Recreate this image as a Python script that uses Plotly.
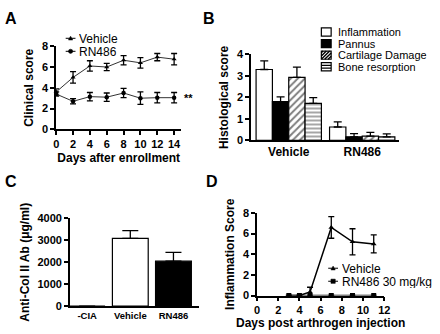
import plotly.graph_objects as go

W, H = 440, 334
FONT = "Liberation Sans"

# ---- A: clinical score after enrollment ----
days_a = [0, 2, 4, 6, 8, 10, 12, 14]
vehicle_a = [3.6, 5.0, 6.1, 6.0, 6.65, 6.4, 6.95, 6.75]
vehicle_a_sem = [0.3, 0.55, 0.5, 0.35, 0.45, 0.5, 0.35, 0.55]
rn486_a = [3.4, 2.7, 3.15, 3.1, 3.5, 3.0, 3.05, 3.05]
rn486_a_sem = [0.2, 0.25, 0.4, 0.4, 0.45, 0.6, 0.5, 0.5]
series_a = ["Vehicle", "RN486"]
signif_a = "**"

# ---- B: histological scores ----
groups_b = ["Vehicle", "RN486"]
scores_b = ["Inflammation", "Pannus", "Cartilage Damage", "Bone resorption"]
inflammation_b = [3.3, 0.62]
inflammation_b_sem = [0.4, 0.24]
pannus_b = [1.8, 0.16]
pannus_b_sem = [0.22, 0.15]
cartilage_b = [2.93, 0.19]
cartilage_b_sem = [0.48, 0.18]
bone_b = [1.72, 0.16]
bone_b_sem = [0.27, 0.14]

# ---- C: anti-collagen II antibody ----
groups_c = ["-CIA", "Vehicle", "RN486"]
antibody_c = [0, 3090, 2050]
antibody_c_sem = [0, 350, 400]

# ---- D: inflammation after arthrogen injection ----
days_d = [3, 4, 5, 7, 9, 11]
vehicle_d = [0, 0, 0.35, 6.6, 5.2, 5.0]
vehicle_d_sem = [0, 0, 0.45, 1.05, 1.27, 0.87]
rn486_d = [0, 0, 0, 0, 0, 0]
rn486_d_sem = [0, 0, 0, 0, 0, 0]
series_d = ["Vehicle", "RN486 30 mg/kg"]


def fx(px):
    return px / W


def fy(py):
    return 1 - py / H


def err(arr, up_only=False, width=3):
    e = dict(type="data", array=arr, color="black", thickness=1.3, width=width, visible=True)
    if up_only:
        e.update(symmetric=False, arrayminus=[0] * len(arr))
    return e


fig = go.Figure()

# Panel A lines
for name, ys, es, sym in [(series_a[0], vehicle_a, vehicle_a_sem, "triangle-up"),
                          (series_a[1], rn486_a, rn486_a_sem, "circle")]:
    fig.add_trace(go.Scatter(
        x=days_a, y=ys, name=name, mode="lines+markers",
        line=dict(color="#333333", width=1),
        marker=dict(symbol=sym, size=4.5, color="black"),
        error_y=err(es), xaxis="x", yaxis="y", showlegend=False, cliponaxis=False))

# Panel B grouped bars
bar_line = dict(color="black", width=1.2)
b_styles = [
    dict(color="white", line=bar_line),
    dict(color="black", line=bar_line),
    dict(color="white", line=bar_line,
         pattern=dict(shape="/", fgcolor="black", bgcolor="white", size=5, solidity=0.4)),
    dict(color="white", line=bar_line,
         pattern=dict(shape="-", fgcolor="black", bgcolor="white", size=4, solidity=0.35)),
]
for name, vals, sems, mk in zip(scores_b,
                                [inflammation_b, pannus_b, cartilage_b, bone_b],
                                [inflammation_b_sem, pannus_b_sem, cartilage_b_sem, bone_b_sem],
                                b_styles):
    fig.add_trace(go.Bar(x=groups_b, y=vals, name=name, marker=mk,
                         error_y=err(sems, up_only=True, width=4),
                         xaxis="x2", yaxis="y2", showlegend=False))

# Panel C bars
fig.add_trace(go.Bar(x=groups_c, y=antibody_c, width=0.83,
                     marker=dict(color=["white", "white", "black"], line=bar_line),
                     error_y=err(antibody_c_sem, up_only=True, width=8),
                     xaxis="x3", yaxis="y3", showlegend=False))

# Panel D lines
for name, ys, es, sym, sz in [(series_d[0], vehicle_d, vehicle_d_sem, "triangle-up", 5),
                              (series_d[1], rn486_d, rn486_d_sem, "square", 5)]:
    fig.add_trace(go.Scatter(
        x=days_d, y=ys, name=name, mode="lines+markers",
        line=dict(color="black", width=1.5),
        marker=dict(symbol=sym, size=sz, color="black"),
        error_y=err(es), xaxis="x4", yaxis="y4", showlegend=False, cliponaxis=False))


def axis(**kw):
    base = dict(showline=True, linecolor="black", linewidth=1.5, ticks="outside",
                ticklen=4, tickwidth=1.5, tickcolor="black", showgrid=False,
                zeroline=False, fixedrange=True,
                tickfont=dict(family=FONT, size=11, color="black", weight="bold"),
                title_font=dict(family=FONT, size=12, color="black", weight="bold"))
    base.update(kw)
    return base


layout = dict(
    width=W, height=H, margin=dict(l=0, r=0, t=0, b=0),
    paper_bgcolor="white", plot_bgcolor="white",
    barmode="group", bargap=0.111, bargroupgap=0,
    font=dict(family=FONT, color="black"),
    xaxis=axis(domain=[fx(54.3), fx(182)], range=[0, 14.85], tickvals=days_a,
               title=dict(text="Days after enrollment", standoff=4), anchor="y"),
    yaxis=axis(domain=[fy(128), fy(41.7)], range=[0, 8], dtick=2,
               title=dict(text="Clinical score", standoff=6), anchor="x"),
    xaxis2=axis(domain=[fx(253.3), fx(404)], range=[-0.512, 1.497], ticks="",
                tickfont=dict(family=FONT, size=12, color="black", weight="bold"),
                anchor="y2"),
    yaxis2=axis(domain=[fy(139.3), fy(50.3)], range=[0, 4], dtick=1,
                title=dict(text="Histological score", standoff=6), anchor="x2"),
    xaxis3=axis(domain=[fx(68.3), fx(200)], range=[-0.40, 2.59], ticks="",
                tickfont=dict(family=FONT, size=9.5, color="black", weight="bold"),
                anchor="y3"),
    yaxis3=axis(domain=[fy(311.3), fy(220.3)], range=[0, 4000], dtick=1000,
                title=dict(text="Anti-Col II Ab (μg/ml)", standoff=5), anchor="x3"),
    xaxis4=axis(domain=[fx(259.3), fx(389.3)], range=[0, 12], dtick=2,
                title=dict(text="Days post arthrogen injection", standoff=3), anchor="y4"),
    yaxis4=axis(domain=[fy(300.3), fy(214.7)], range=[0, 8], dtick=2,
                title=dict(text="Inflammation Score", standoff=6), anchor="x4"),
)

annotations = []
shapes = []

# Panel letters
for letter, px, py in [("A", 1, 3), ("B", 203, 3), ("C", 1, 172), ("D", 206, 172)]:
    annotations.append(dict(text=letter, x=fx(px), y=fy(py), xref="paper", yref="paper",
                            xanchor="left", yanchor="top", showarrow=False, borderpad=0,
                            font=dict(family=FONT, size=16, color="black", weight="bold")))

# Significance marker in A
annotations.append(dict(text=signif_a, x=days_a[-1], y=rn486_a[-1], xref="x", yref="y",
                        xanchor="left", yanchor="middle", xshift=8, showarrow=False,
                        font=dict(family=FONT, size=11, color="black", weight="bold")))

legend_font = dict(family=FONT, size=12, color="black")


def marker_shape(kind, cx, cy, r=2.2):
    if kind == "triangle":
        path = (f"M{fx(cx - r)},{fy(cy + r * 0.8)} L{fx(cx + r)},{fy(cy + r * 0.8)} "
                f"L{fx(cx)},{fy(cy - r)} Z")
        return dict(type="path", path=path, xref="paper", yref="paper",
                    fillcolor="black", line=dict(color="black", width=0.5))
    if kind == "square":
        return dict(type="rect", x0=fx(cx - r), x1=fx(cx + r), y0=fy(cy + r), y1=fy(cy - r),
                    xref="paper", yref="paper", fillcolor="black",
                    line=dict(color="black", width=0.5))
    return dict(type="circle", x0=fx(cx - r), x1=fx(cx + r), y0=fy(cy + r), y1=fy(cy - r),
                xref="paper", yref="paper", fillcolor="black",
                line=dict(color="black", width=0.5))


def line_legend(names, kinds, x0, x1, text_x, rows):
    for name, kind, row in zip(names, kinds, rows):
        shapes.append(dict(type="line", x0=fx(x0), x1=fx(x1), y0=fy(row), y1=fy(row),
                           xref="paper", yref="paper", line=dict(color="black", width=1)))
        shapes.append(marker_shape(kind, (x0 + x1) / 2, row))
        annotations.append(dict(text=name, x=fx(text_x), y=fy(row), xref="paper",
                                yref="paper", xanchor="left", yanchor="middle",
                                height=13, borderpad=0,
                                showarrow=False, font=legend_font))


line_legend(series_a, ["triangle", "circle"], 64, 74, 77, [33.5, 47])
line_legend(series_d, ["triangle", "square"], 332, 342, 345, [272, 285.5])

# Legend for B: boxes with fill / hatch
bx0, bx1, bh = 325, 335, 8.5
rows_b = [27, 39, 51, 63]
for i, (name, row) in enumerate(zip(scores_b, rows_b)):
    top, bot = row - bh / 2, row + bh / 2
    fill = "black" if i == 1 else "white"
    shapes.append(dict(type="rect", x0=fx(bx0), x1=fx(bx1), y0=fy(bot), y1=fy(top),
                       xref="paper", yref="paper", fillcolor=fill,
                       line=dict(color="black", width=1.2)))
    if i == 2:
        segs = []
        for k in range(-2, 4):
            sx = bx0 + k * 3.4
            ax, ay, bxp, byp = sx, bot, sx + bh, top
            # keep each hatch stroke inside the box
            if ax < bx0:
                ay -= (bx0 - ax); ax = bx0
            if bxp > bx1:
                byp += (bxp - bx1); bxp = bx1
            if ay > top and byp < bot and ax < bxp:
                segs.append(f"M{fx(ax)},{fy(ay)} L{fx(bxp)},{fy(byp)}")
        shapes.append(dict(type="path", path=" ".join(segs), xref="paper", yref="paper",
                           line=dict(color="black", width=1.4)))
    if i == 3:
        segs = [f"M{fx(bx0)},{fy(top + d)} L{fx(bx1)},{fy(top + d)}" for d in (2.8, 5.6)]
        shapes.append(dict(type="path", path=" ".join(segs), xref="paper", yref="paper",
                           line=dict(color="black", width=1.2)))
    annotations.append(dict(text=name, x=fx(341), y=fy(row), xref="paper", yref="paper",
                            xanchor="left", yanchor="middle", showarrow=False,
                            height=12, borderpad=0,
                            font=dict(family=FONT, size=11, color="black")))

layout["annotations"] = annotations
layout["shapes"] = shapes
fig.update_layout(**layout)

fig.write_html("out.html")
